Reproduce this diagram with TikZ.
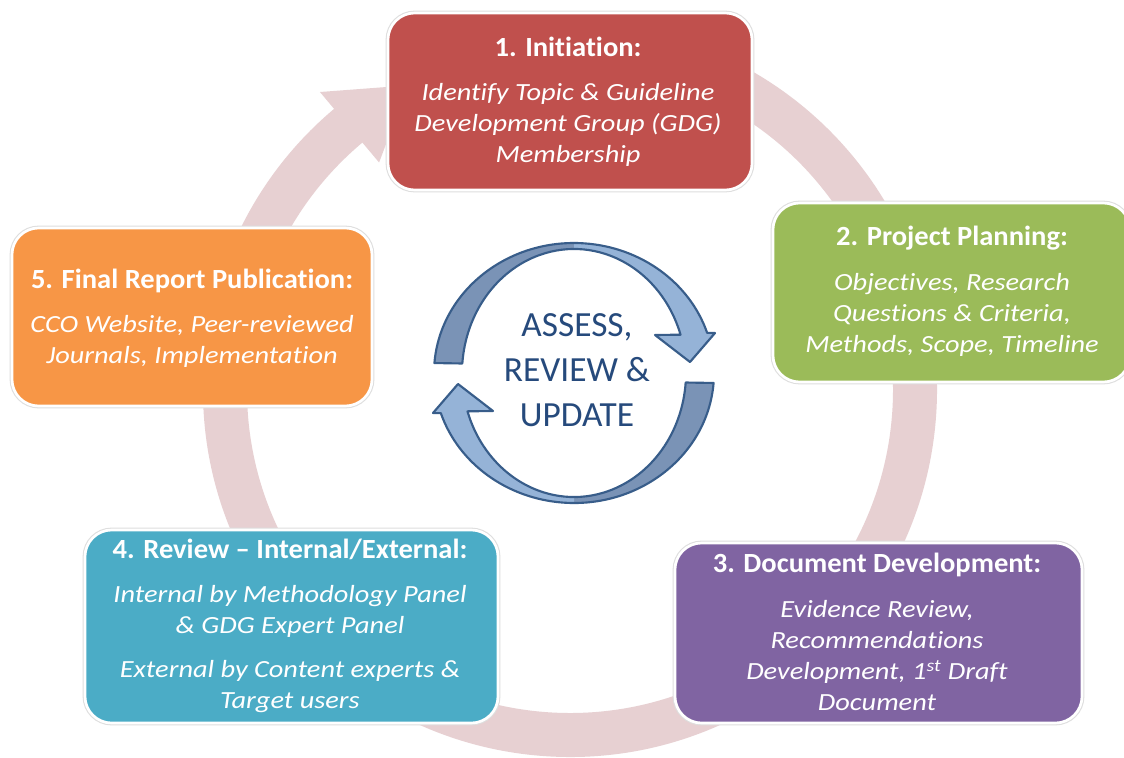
\documentclass[tikz,border=0pt]{standalone}
\usepackage{fontspec}
\setmainfont{Carlito}[Ligatures=NoCommon]
\newfontfamily\bodyfam{Carlito}[Ligatures=NoCommon, FakeStretch=1.15]
\newfontfamily\ttlfam{Carlito}[Ligatures=NoCommon, FakeStretch=1.03]
\usetikzlibrary{calc}
\definecolor{ringc}{RGB}{231,208,210}
\definecolor{c1}{RGB}{192,80,77}
\definecolor{c2}{RGB}{155,187,89}
\definecolor{c3}{RGB}{128,100,162}
\definecolor{c4}{RGB}{75,172,198}
\definecolor{c5}{RGB}{247,150,70}
\definecolor{arrl}{RGB}{149,179,215}
\definecolor{arrd}{RGB}{122,147,182}
\definecolor{arro}{RGB}{56,93,138}
\definecolor{ctext}{RGB}{38,74,124}
\definecolor{rim}{RGB}{222,222,222}
\newcommand\lns[1]{\begin{tabular}[t]{@{}c@{}}#1\end{tabular}}
\newcommand\ctrarrow{%
  \fill[arrd] ($(cc)+(184.4:140 and 130)$) arc[start angle=184.4,end angle=270,x radius=140,y radius=130]
     -- ($(cc)+(270:112 and 124)$) arc[start angle=270,end angle=184.4,x radius=112,y radius=124] -- cycle;
  \fill[arrl] ($(cc)+(270:140 and 130)$) arc[start angle=270,end angle=342,x radius=140,y radius=130]
     -- (715,333) -- (690,362) -- (655,335)
     -- ($(cc)+(342:112 and 124)$) arc[start angle=342,end angle=270,x radius=112,y radius=124] -- cycle;
  \draw[arro,line width=1.6pt,line join=round] ($(cc)+(184.4:140 and 130)$) arc[start angle=184.4,end angle=342,x radius=140,y radius=130]
     -- (715,333) -- (690,362) -- (655,335)
     -- ($(cc)+(342:112 and 124)$) arc[start angle=342,end angle=184.4,x radius=112,y radius=124] -- cycle;
}
\tikzset{
  box/.style={rounded corners=20pt, fill=#1, draw=white, line width=2pt,
              preaction={draw=rim, line width=3.6pt}, inner sep=0pt},
  ttl/.style={text=white, font=\ttlfam\fontsize{20.8}{24}\selectfont\bfseries, anchor=base, inner sep=0pt},
  bdy/.style={text=white, font=\bodyfam\fontsize{18.5}{23.4}\selectfont\itshape, anchor=base, inner sep=0pt},
}
\begin{document}
\begin{tikzpicture}[x=0.75pt,y=-0.75pt]
\useasboundingbox (0,0) rectangle (1124,757);
\fill[white] (0,0) rectangle (1124,757);
% big ring arrow
\coordinate (rc) at (570,390);
\fill[ringc] ($(rc)+(-85:367)$) arc[start angle=-85,end angle=230,radius=367]
   -- ($(rc)+(230:389)$) -- ($(rc)+(242:345)$) -- ($(rc)+(230:297)$)
   -- ($(rc)+(230:323)$) arc[start angle=230,end angle=-85,radius=323] -- cycle;
% central arrows
\coordinate (cc) at (574,373);
\ctrarrow
\begin{scope}[rotate around={180:(cc)}]
\ctrarrow
\end{scope}
\node[text=ctext, font=\fontsize{26.5}{33.75}\selectfont, align=center] (ctr) at (577,370) {ASSESS,\\REVIEW \&\\UPDATE};
% boxes
\node[box=c1, minimum width=273pt, minimum height=132.75pt] (b1) at (570,101.5) {};
\node[box=c2, minimum width=267.75pt, minimum height=134.25pt] (b2) at (951.5,292.5) {};
\node[box=c3, minimum width=305.25pt, minimum height=135pt] (b3) at (878.5,633) {};
\node[box=c4, minimum width=309.75pt, minimum height=144.75pt] (b4) at (291.5,626.5) {};
\node[box=c5, minimum width=270pt, minimum height=133.5pt] (b5) at (192,317) {};
% texts
\node[ttl] (t1) at (568,56) {1. Initiation:};
\node[bdy] (d1) at (568,100) {\lns{Identify Topic \& Guideline\\Development Group (GDG)\\Membership}};
\node[ttl] (t2) at (952,245) {2. Project Planning:};
\node[bdy] (d2) at (952,290) {\lns{Objectives, Research\\Questions \& Criteria,\\Methods, Scope, Timeline}};
\node[ttl] (t3) at (877,572) {3. Document Development:};
\node[bdy] (d3) at (877,617) {\lns{Evidence Review,\\Recommendations\\Development, 1\textsuperscript{st} Draft\\Document}};
\node[ttl] (t4) at (290,558) {4. Review – Internal/External:};
\node[bdy] (d4) at (290,602) {\lns{Internal by Methodology Panel\\\& GDG Expert Panel\\[9.5pt]External by Content experts \&\\Target users}};
\node[ttl] (t5) at (192,288) {5. Final Report Publication:};
\node[bdy] (d5) at (192,332) {\lns{CCO Website, Peer-reviewed\\Journals, Implementation}};
\end{tikzpicture}
\end{document}
